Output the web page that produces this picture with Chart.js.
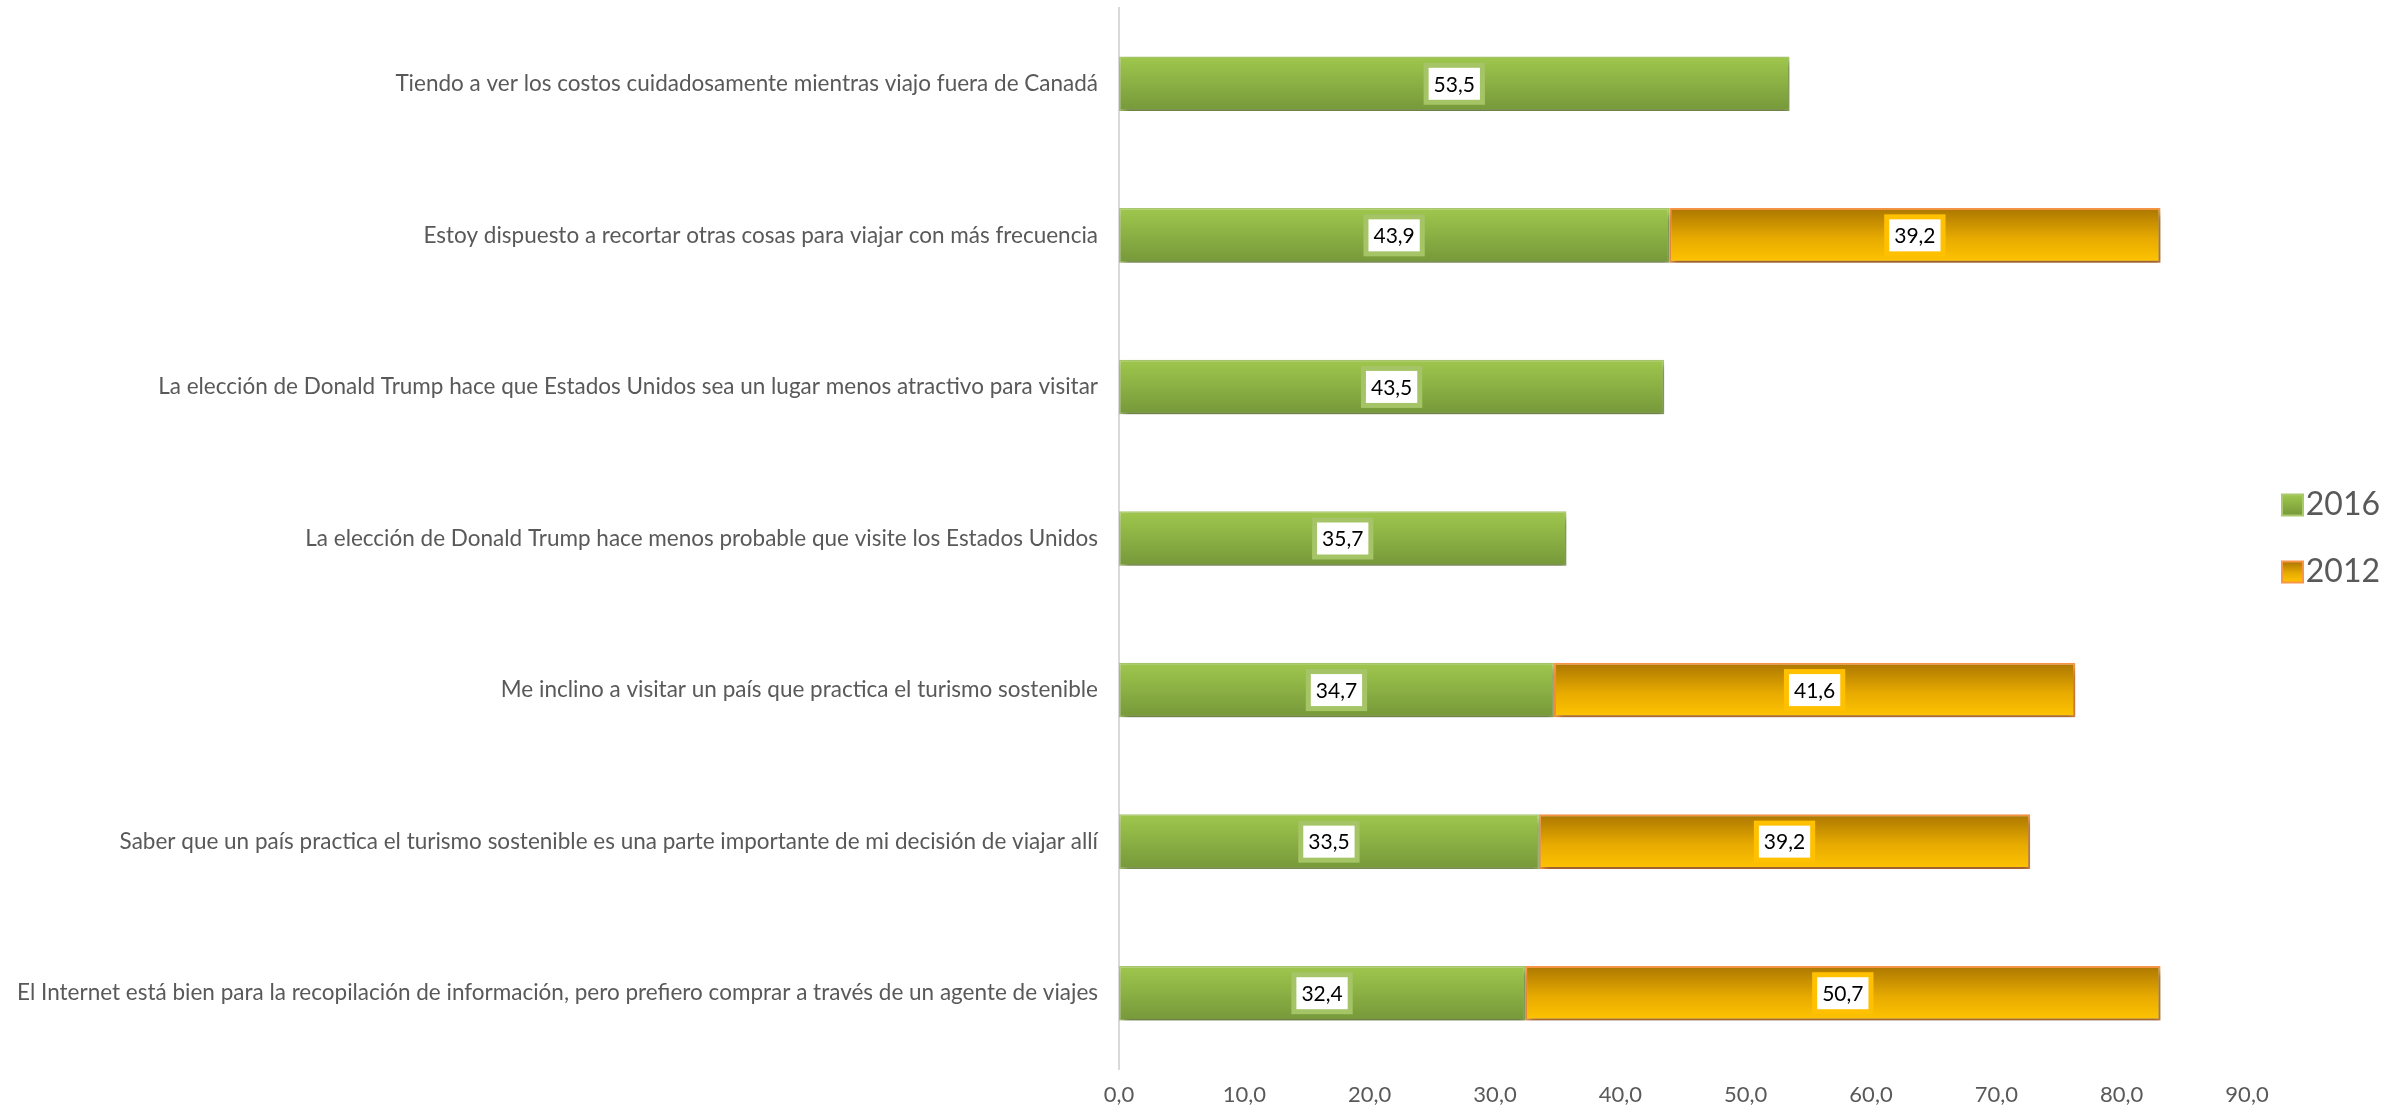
<!DOCTYPE html>
<html>
<head>
<meta charset="utf-8">
<script src="https://cdn.jsdelivr.net/npm/chart.js@4.4.0/dist/chart.umd.min.js"></script>
<style>
  html, body { margin: 0; padding: 0; background: #ffffff; }
  canvas { display: block; }
</style>
</head>
<body>
<canvas id="chart" width="2384" height="1113"></canvas>
<script>
// Survey statements, top to bottom
const categories = [
  'Tiendo a ver los costos cuidadosamente mientras viajo fuera de Canadá',
  'Estoy dispuesto a recortar otras cosas para viajar con más frecuencia',
  'La elección de Donald Trump hace que Estados Unidos sea un lugar menos atractivo para visitar',
  'La elección de Donald Trump hace menos probable que visite los Estados Unidos',
  'Me inclino a visitar un país que practica el turismo sostenible',
  'Saber que un país practica el turismo sostenible es una parte importante de mi decisión de viajar allí',
  'El Internet está bien para la recopilación de información, pero prefiero comprar a través de un agente de viajes'
];

// Percent agreeing, per survey year (null = not asked that year)
const values2016 = [53.5, 43.9, 43.5, 35.7, 34.7, 33.5, 32.4];
const values2012 = [null, 39.2, null, null, 41.6, 39.2, 50.7];

const seriesNames = ['2016', '2012'];
const xTickLabels = ['0,0', '10,0', '20,0', '30,0', '40,0', '50,0', '60,0', '70,0', '80,0', '90,0'];

const BAR_FRACTION = 0.36;
const FONT = 'Lato';
const LEGEND_FONT = 32;
const LEGEND_BOX = 21;

function formatValue(v) {
  return v.toFixed(1).replace('.', ',');
}

const greenStops = [[0, '#9fc74d'], [1, '#76983a']];
const goldStops = [[0, '#ab7600'], [0.55, '#e7aa00'], [1, '#ffc400']];
const seriesStops = [greenStops, goldStops];
const seriesBorders = ['#a9c96a', '#f79646'];
const labelBorders = ['#a4c466', '#ffc000'];

function gradient(ctx, top, bottom, stops) {
  const g = ctx.createLinearGradient(0, top, 0, bottom);
  stops.forEach(([p, c]) => g.addColorStop(p, c));
  return g;
}

// Vertical gradient for each bar, spanning the bar's own height
function barFill(stops, fallback) {
  return function (context) {
    const chart = context.chart;
    const ys = chart.scales && chart.scales.y;
    if (!chart.chartArea || !ys || context.type !== 'data') return fallback;
    const y = ys.getPixelForValue(context.dataIndex);
    const band = (ys.bottom - ys.top) / categories.length;
    const h = band * BAR_FRACTION;
    return gradient(chart.ctx, y - h / 2, y + h / 2, stops);
  };
}

// Same gradients on the legend swatches, once their positions are known
const legendSwatches = {
  id: 'legendSwatches',
  beforeDraw(chart) {
    const legend = chart.legend;
    if (!legend || !legend.legendItems || !legend.legendHitBoxes) return;
    legend.legendItems.forEach((item, i) => {
      const hit = legend.legendHitBoxes[i];
      if (!hit) return;
      const top = hit.top + (LEGEND_FONT - LEGEND_BOX) / 2;
      item.fillStyle = gradient(chart.ctx, top, top + LEGEND_BOX, seriesStops[i]);
      item.strokeStyle = seriesBorders[i];
      item.lineWidth = 2;
    });
  }
};

// Soft drop shadow under the bars
const barShadow = {
  id: 'barShadow',
  beforeDatasetDraw(chart) {
    const ctx = chart.ctx;
    ctx.save();
    ctx.shadowColor = 'rgba(0,0,0,0.4)';
    ctx.shadowBlur = 7;
    ctx.shadowOffsetX = 2;
    ctx.shadowOffsetY = 5;
  },
  afterDatasetDraw(chart) {
    chart.ctx.restore();
  }
};

// Boxed value labels in the middle of each segment
const valueLabels = {
  id: 'valueLabels',
  afterDatasetsDraw(chart) {
    const ctx = chart.ctx;
    ctx.save();
    ctx.font = '21px ' + FONT;
    ctx.textAlign = 'center';
    ctx.textBaseline = 'middle';
    chart.data.datasets.forEach((ds, di) => {
      const meta = chart.getDatasetMeta(di);
      meta.data.forEach((bar, i) => {
        const v = ds.data[i];
        if (v == null) return;
        const cx = (bar.x + bar.base) / 2;
        const cy = bar.y;
        const text = formatValue(v);
        const tw = ctx.measureText(text).width;
        const iw = tw + 10, ih = 32, b = 5;
        ctx.fillStyle = labelBorders[di];
        ctx.fillRect(cx - iw / 2 - b, cy - ih / 2 - b, iw + 2 * b, ih + 2 * b);
        ctx.fillStyle = '#ffffff';
        ctx.fillRect(cx - iw / 2, cy - ih / 2, iw, ih);
        ctx.fillStyle = '#000000';
        ctx.fillText(text, cx, cy + 1);
      });
    });
    ctx.restore();
  }
};

new Chart(document.getElementById('chart'), {
  type: 'bar',
  data: {
    labels: categories,
    datasets: [
      {
        label: seriesNames[0],
        data: values2016,
        backgroundColor: barFill(greenStops, '#8cb444'),
        borderColor: seriesBorders[0],
        borderWidth: 1.5,
        borderSkipped: false,
        barPercentage: BAR_FRACTION,
        categoryPercentage: 1
      },
      {
        label: seriesNames[1],
        data: values2012,
        backgroundColor: barFill(goldStops, '#dba300'),
        borderColor: seriesBorders[1],
        borderWidth: 2,
        borderSkipped: false,
        barPercentage: BAR_FRACTION,
        categoryPercentage: 1
      }
    ]
  },
  options: {
    indexAxis: 'y',
    responsive: false,
    animation: false,
    devicePixelRatio: 1,
    layout: { padding: { top: 8, right: 4, bottom: 4, left: 0 } },
    scales: {
      x: {
        stacked: true,
        min: 0,
        max: 90,
        grid: { display: false, drawTicks: false },
        border: { display: false },
        ticks: {
          stepSize: 10,
          padding: 13,
          color: '#595959',
          font: { family: FONT, size: 22 },
          callback: (v, i) => xTickLabels[i]
        },
        afterFit: (scale) => { scale.height = 40; }
      },
      y: {
        stacked: true,
        grid: { display: false, drawTicks: false },
        border: { display: true, color: '#d9d9d9', width: 2 },
        ticks: {
          padding: 21,
          color: '#595959',
          font: { family: FONT, size: 22.5 },
          autoSkip: false
        },
        afterFit: (scale) => {
          scale.width = 1119;
          scale.paddingTop = 0;
          scale.paddingBottom = 0;
        }
      }
    },
    plugins: {
      tooltip: { enabled: false },
      legend: {
        position: 'right',
        fullSize: false,
        maxWidth: 133,
        labels: {
          boxWidth: LEGEND_BOX,
          boxHeight: LEGEND_BOX,
          padding: 35,
          textAlign: 'right',
          color: '#595959',
          font: { family: FONT, size: LEGEND_FONT }
        }
      }
    }
  },
  plugins: [legendSwatches, barShadow, valueLabels]
});
</script>
</body>
</html>
